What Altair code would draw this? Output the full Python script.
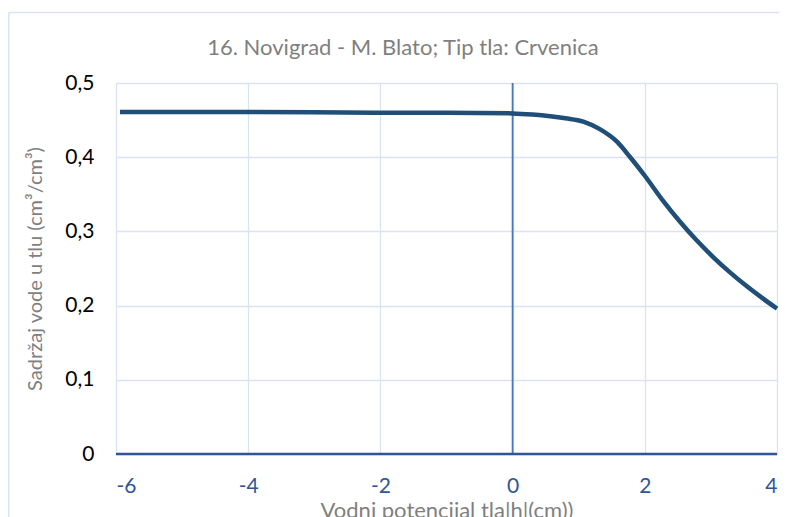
import altair as alt
import pandas as pd

h_values = [-5.94, -4.0, -2.0, -1.0, 0.0, 0.3, 0.8, 1.07, 1.32, 1.575, 1.77, 2.0, 2.28, 2.53, 2.78, 3.03, 3.28, 3.53, 3.78, 4.0]
theta_values = [0.461, 0.461, 0.460, 0.460, 0.459, 0.4575, 0.4525, 0.448, 0.4378, 0.4212, 0.401, 0.375, 0.3408, 0.3133, 0.2883, 0.2658, 0.2455, 0.227, 0.210, 0.196]
x_ticks = [-6, -4, -2, 0, 2, 4]
y_ticks = [0, 0.1, 0.2, 0.3, 0.4, 0.5]
title_text = "16. Novigrad - M. Blato; Tip tla: Crvenica"
x_title = "Vodni potencijal tla|h|(cm))"
y_title = "Sadržaj vode u tlu  (cm³/cm³)"

df = pd.DataFrame({"h": h_values, "theta": theta_values})
zero_df = pd.DataFrame({"h": [0]})

FONT = "Lato"
GRID = "#d9e3f3"
W, H = 661, 371
FS = 21

xs = alt.Scale(domain=[-6, 4], nice=False, zero=False)
ys = alt.Scale(domain=[0, 0.5], nice=False)

x_enc = alt.X("h:Q", scale=xs,
              axis=alt.Axis(values=x_ticks, title=x_title,
                            labelExpr="'' + datum.value", labelColor="#2f5597",
                            labelFontSize=FS, labelPadding=21, titleFontSize=22,
                            titleColor="#7f7f7f", titleFontWeight="normal",
                            titleX=W / 2, titleY=56, titleBaseline="middle", titleAlign="center",
                            ticks=False, domain=False, grid=True, gridColor=GRID, gridWidth=1.3,
                            labelFont=FONT, titleFont=FONT))
y_enc = alt.Y("theta:Q", scale=ys,
              axis=alt.Axis(values=y_ticks, title=y_title,
                            labelExpr="datum.value == 0 ? '0' : replace(format(datum.value, '.1f'), '.', ',')",
                            labelColor="#000000", labelFontSize=FS, labelPadding=22,
                            titleFontSize=20, titleColor="#7f7f7f", titleFontWeight="normal",
                            titleX=-81, titleY=H / 2, titleAngle=270, titleBaseline="middle",
                            titleAlign="center",
                            ticks=False, domain=False, grid=True,
                            gridColor=GRID, gridWidth=1.3, labelFont=FONT, titleFont=FONT))

line = alt.Chart(df).mark_line(color="#1f4e79", strokeWidth=4.5, interpolate="monotone").encode(x=x_enc, y=y_enc)

vrule = alt.Chart(zero_df).mark_rule(color="#4a76bd", strokeWidth=1.8).encode(x=alt.X("h:Q", scale=xs))
hrule = alt.Chart(pd.DataFrame({"t": [0]})).mark_rule(color="#2f5597", strokeWidth=2.5).encode(
    y=alt.Y("t:Q", scale=ys))

one = pd.DataFrame({"t": [0]})
border_left = alt.Chart(one).mark_rule(color=GRID, strokeWidth=1.5).encode(
    x=alt.value(-107.2), y=alt.value(-70.5), y2=alt.value(H + 70))
border_top = alt.Chart(one).mark_rule(color=GRID, strokeWidth=1.5).encode(
    x=alt.value(-107.2), x2=alt.value(W + 10), y=alt.value(-70.5))

title = alt.Chart(pd.DataFrame({"t": [title_text]})).mark_text(
    font=FONT, fontSize=22, color="#7f7f7f", align="center", baseline="middle").encode(
    text="t:N", x=alt.value(287), y=alt.value(-35.5))

chart = alt.layer(border_left, border_top, vrule, line, hrule, title).properties(
    width=W, height=H,
    autosize=alt.AutoSizeParams(type="none"),
    padding={"left": 108, "top": 75, "right": 2, "bottom": 75},
).configure_view(stroke=None).configure(font=FONT)

chart.save("out.html", embed_options={"renderer": "svg", "actions": False})
